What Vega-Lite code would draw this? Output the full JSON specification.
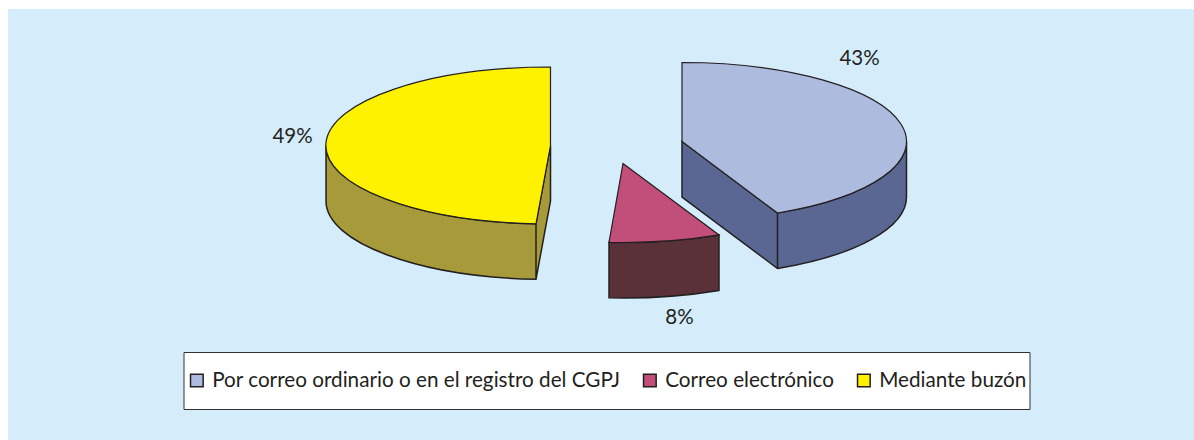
{
  "$schema": "https://vega.github.io/schema/vega-lite/v6.json",
  "width": 1186,
  "height": 431,
  "padding": {"left": 8, "top": 9, "right": 0, "bottom": 0},
  "autosize": {"type": "none"},
  "background": "#ffffff",
  "view": {"fill": "#D5EDFB", "stroke": null},
  "config": {"font": "Lato"},
  "data": {"values": [
    {"category": "Por correo ordinario o en el registro del CGPJ", "share": 0.43},
    {"category": "Correo electrónico", "share": 0.08},
    {"category": "Mediante buzón", "share": 0.49}
  ]},
  "layer": [
    {
      "mark": {"type": "square", "filled": true, "size": 0},
      "encoding": {
        "x": {"datum": 589, "type": "quantitative", "axis": null, "scale": {"domain": [0, 1178], "range": [0, 1178]}},
        "y": {"datum": 215.5, "type": "quantitative", "axis": null, "scale": {"domain": [0, 431], "range": [0, 431]}},
        "color": {"field": "category", "type": "nominal", "sort": null, "scale": {
          "domain": ["Por correo ordinario o en el registro del CGPJ", "Correo electrónico", "Mediante buzón"],
          "range": ["#ADBBDE", "#C24E7A", "#FFF200"]
        }, "legend": {
          "title": null, "orient": "none", "legendX": 175.5, "legendY": 343, "direction": "horizontal", "columns": 3,
          "symbolType": "square", "symbolSize": 160, "symbolStrokeColor": "#231F20", "symbolStrokeWidth": 1.5, "symbolOpacity": 1,
          "labelFont": "Lato", "labelFontSize": 20.7, "labelColor": "#231F20", "labelOffset": 5, "labelLimit": 600,
          "columnPadding": 19, "clipHeight": 51, "padding": 3,
          "fillColor": "#ffffff", "strokeColor": "#333333"
        }}
      }
    },
    {
      "mark": {"type": "point", "filled": true, "opacity": 1, "size": 4, "stroke": "#231F20", "strokeWidth": 1.5, "strokeJoin": "miter"},
      "encoding": {
        "x": {"datum": 589, "type": "quantitative", "axis": null, "scale": {"domain": [0, 1178], "range": [0, 1178]}},
        "y": {"datum": 215.5, "type": "quantitative", "axis": null, "scale": {"domain": [0, 431], "range": [0, 431]}},
        "shape": {"field": "category", "type": "nominal", "legend": null, "scale": {
          "domain": ["Por correo ordinario o en el registro del CGPJ", "Correo electrónico", "Mediante buzón"],
          "range": [
            "M85,-83 L85,-27.5 L180.5,44 A224.5,79 0 0 0 309.5,-27.5 L309.5,-83 A224.5,79 0 0 1 180.5,-11.5 Z M180.5,-11.5 L180.5,44",
            "M12,17.85 L12,73.35 A224.5,79 0 0 0 122,65.91 L122,10.41 A224.5,79 0 0 1 12,17.85 Z",
            "M-271,-79 L-271,-23.5 A224.5,78.5 0 0 0 -61,54.84 L-46.5,-23.5 L-46.5,-79 L-61,-0.66 A224.5,78.5 0 0 1 -271,-79 Z M-61,-0.66 L-61,54.84"
          ]
        }},
        "color": {"field": "category", "type": "nominal", "legend": null, "scale": {
          "domain": ["Por correo ordinario o en el registro del CGPJ", "Correo electrónico", "Mediante buzón"],
          "range": ["#5A6792", "#5A3138", "#A79A3A"]
        }}
      }
    },
    {
      "mark": {"type": "point", "filled": true, "opacity": 1, "size": 4, "stroke": "#231F20", "strokeWidth": 1.2, "strokeJoin": "miter"},
      "encoding": {
        "x": {"datum": 589, "type": "quantitative", "axis": null, "scale": {"domain": [0, 1178], "range": [0, 1178]}},
        "y": {"datum": 215.5, "type": "quantitative", "axis": null, "scale": {"domain": [0, 431], "range": [0, 431]}},
        "shape": {"field": "category", "type": "nominal", "legend": null, "scale": {
          "domain": ["Por correo ordinario o en el registro del CGPJ", "Correo electrónico", "Mediante buzón"],
          "range": [
            "M85,-162 A224.5,79 0 0 1 180.5,-11.5 L85,-83 Z",
            "M26,-61 L122,10.41 A224.5,79 0 0 1 12,17.85 Z",
            "M-46.5,-157.5 A224.5,78.5 0 0 0 -61,-0.66 L-46.5,-79 Z"
          ]
        }},
        "color": {"field": "category", "type": "nominal", "legend": null, "scale": {
          "domain": ["Por correo ordinario o en el registro del CGPJ", "Correo electrónico", "Mediante buzón"],
          "range": ["#ADBBDE", "#C24E7A", "#FFF200"]
        }}
      }
    },
    {
      "mark": {"type": "text", "font": "Lato", "fontSize": 20.5, "color": "#231F20", "align": "center", "baseline": "middle"},
      "encoding": {
        "x": {"field": "share", "type": "quantitative", "axis": null, "scale": {"domain": [0.08, 0.43, 0.49], "range": [671.5, 851.5, 284.5]}},
        "y": {"field": "share", "type": "quantitative", "axis": null, "scale": {"domain": [0.08, 0.43, 0.49], "range": [309, 50, 128]}},
        "text": {"field": "share", "type": "quantitative", "format": ".0%"}
      }
    }
  ],
  "resolve": {"scale": {"x": "independent", "y": "independent", "shape": "independent", "color": "independent"}}
}
